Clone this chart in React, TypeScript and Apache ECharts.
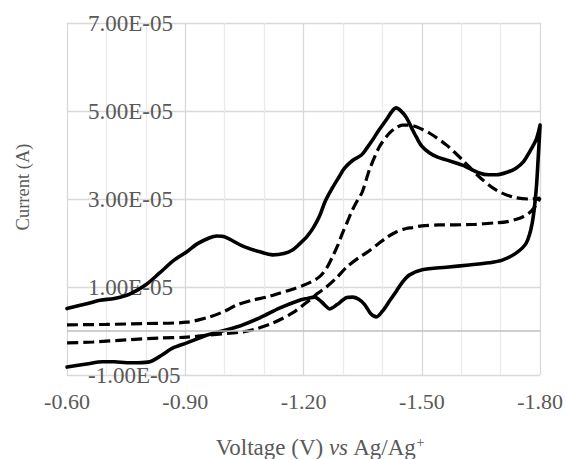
import React, { useEffect, useRef } from "react";
import * as echarts from "echarts";

// [voltage (V), current (×1e-5 A)]
const solidForward: [number, number][] = [
  [-0.6, 0.51], [-0.65, 0.62], [-0.684, 0.7], [-0.72, 0.74], [-0.759, 0.84], [-0.8, 1.05],
  [-0.835, 1.32], [-0.87, 1.6], [-0.904, 1.8], [-0.93, 1.98], [-0.962, 2.12], [-0.98, 2.16],
  [-1.0, 2.14], [-1.046, 1.93], [-1.089, 1.8], [-1.122, 1.73], [-1.15, 1.76], [-1.172, 1.84],
  [-1.19, 1.98], [-1.208, 2.14], [-1.225, 2.35], [-1.24, 2.6], [-1.255, 2.95], [-1.273, 3.25],
  [-1.29, 3.5], [-1.304, 3.7], [-1.325, 3.88], [-1.347, 4.0], [-1.36, 4.15], [-1.375, 4.34],
  [-1.39, 4.55], [-1.41, 4.8], [-1.425, 5.0], [-1.435, 5.07], [-1.445, 5.02], [-1.461, 4.85],
  [-1.475, 4.6], [-1.486, 4.41], [-1.5, 4.2], [-1.519, 4.05], [-1.54, 3.95], [-1.562, 3.89],
  [-1.603, 3.77], [-1.646, 3.59], [-1.67, 3.55], [-1.689, 3.55], [-1.72, 3.62], [-1.739, 3.7],
  [-1.758, 3.85], [-1.772, 4.05], [-1.79, 4.35], [-1.8, 4.68],
];
const solidReturn: [number, number][] = [
  [-1.795, 3.9], [-1.79, 3.2], [-1.78, 2.45], [-1.765, 2.0], [-1.739, 1.77], [-1.704, 1.61],
  [-1.671, 1.55], [-1.62, 1.5], [-1.562, 1.45], [-1.501, 1.39], [-1.468, 1.27], [-1.45, 1.1],
  [-1.435, 0.9], [-1.418, 0.68], [-1.4, 0.45], [-1.385, 0.32], [-1.37, 0.4], [-1.355, 0.6],
  [-1.34, 0.72], [-1.324, 0.77], [-1.31, 0.76], [-1.299, 0.7], [-1.285, 0.6], [-1.266, 0.5],
  [-1.255, 0.58], [-1.246, 0.66], [-1.228, 0.77], [-1.21, 0.74], [-1.19, 0.7], [-1.139, 0.52],
  [-1.089, 0.3], [-1.03, 0.09], [-0.96, -0.08], [-0.904, -0.27], [-0.87, -0.38], [-0.84, -0.55],
  [-0.81, -0.7], [-0.78, -0.72], [-0.752, -0.72], [-0.72, -0.7], [-0.691, -0.7], [-0.65, -0.75],
  [-0.6, -0.82],
];
const dashedForward: [number, number][] = [
  [-0.6, 0.14], [-0.7, 0.15], [-0.8, 0.17], [-0.904, 0.2], [-0.962, 0.32], [-1.0, 0.45],
  [-1.03, 0.59], [-1.07, 0.7], [-1.106, 0.77], [-1.139, 0.86], [-1.172, 0.95], [-1.197, 1.03],
  [-1.22, 1.12], [-1.24, 1.23], [-1.258, 1.42], [-1.273, 1.68], [-1.287, 1.95], [-1.299, 2.23],
  [-1.312, 2.5], [-1.324, 2.75], [-1.337, 2.97], [-1.349, 3.16], [-1.367, 3.66], [-1.392, 4.18],
  [-1.418, 4.5], [-1.435, 4.62], [-1.451, 4.68], [-1.47, 4.68], [-1.486, 4.64], [-1.519, 4.5],
  [-1.562, 4.23], [-1.603, 3.89], [-1.646, 3.5], [-1.689, 3.2], [-1.729, 3.05], [-1.772, 3.0],
  [-1.8, 3.02],
];
const dashedReturn: [number, number][] = [
  [-1.785, 2.8], [-1.772, 2.68], [-1.75, 2.57], [-1.714, 2.48], [-1.689, 2.46], [-1.628, 2.42],
  [-1.544, 2.41], [-1.5, 2.39], [-1.476, 2.35], [-1.461, 2.33], [-1.435, 2.25], [-1.41, 2.12],
  [-1.385, 1.95], [-1.36, 1.78], [-1.342, 1.68], [-1.309, 1.45], [-1.285, 1.22], [-1.258, 1.0],
  [-1.235, 0.85], [-1.215, 0.7], [-1.172, 0.41], [-1.122, 0.18], [-1.08, 0.05], [-1.046, -0.02],
  [-0.962, -0.09], [-0.904, -0.14], [-0.835, -0.16], [-0.752, -0.2], [-0.666, -0.25], [-0.6, -0.27],
];

const xMin = -1.8;
const xMax = -0.6;
const xInterval = 0.3;
const yMin = -1e-5;
const yMax = 7e-5;
const yInterval = 2e-5;
const currentUnit = 1e-5;

const yTitle = "Current (A)";
const xTitle = "Voltage (V) {i|vs} Ag/Ag{sup|+}";

const FONT = "'Liberation Serif', 'Times New Roman', serif";
const GRAY = "#595959";

const fmtSci = (v: number) => {
  if (Math.abs(v) < 1e-12) return "0.00E+00";
  const [m, e] = v.toExponential(2).split("e");
  const en = parseInt(e, 10);
  return `${m}E${en < 0 ? "-" : "+"}${String(Math.abs(en)).padStart(2, "0")}`;
};

const toData = (arr: [number, number][]) => arr.map(([v, i]) => [v, i * currentUnit]);

export default function App() {
  const ref = useRef<HTMLDivElement>(null);
  useEffect(() => {
    const chart = echarts.init(ref.current!, null, { renderer: "svg" });
    chart.setOption({
      animation: false,
      backgroundColor: "#fff",
      grid: { left: 67, right: 25, top: 23, bottom: 84, containLabel: false },
      xAxis: {
        type: "value",
        min: xMin,
        max: xMax,
        interval: xInterval,
        inverse: true,
        axisLine: { show: false, onZero: false },
        axisTick: { show: false },
        axisLabel: {
          formatter: (v: number) => v.toFixed(2),
          fontFamily: FONT,
          fontSize: 22,
          color: GRAY,
          margin: 15,
        },
        splitLine: { show: true, lineStyle: { color: "#d9d9d9", width: 1.3 } },
        minorTick: { show: false, splitNumber: 3 },
        minorSplitLine: { show: true, lineStyle: { color: "#ebebeb", width: 1.3 } },
      },
      yAxis: {
        type: "value",
        min: yMin,
        max: yMax,
        interval: yInterval,
        axisLine: { show: false },
        axisTick: { show: false },
        axisLabel: {
          inside: true,
          margin: 21,
          fontFamily: FONT,
          fontSize: 23,
          color: GRAY,
          formatter: fmtSci,
        },
        splitLine: { show: true, lineStyle: { color: "#d9d9d9", width: 1.3 } },
      },
      graphic: [
        {
          type: "text",
          x: 23,
          y: 187,
          rotation: Math.PI / 2,
          style: {
            text: yTitle,
            fontFamily: FONT,
            fontSize: 18.5,
            fill: GRAY,
            align: "center",
            verticalAlign: "middle",
          },
        },
        {
          type: "text",
          x: 320,
          y: 447,
          style: {
            text: xTitle,
            fontFamily: FONT,
            fontSize: 23,
            fill: GRAY,
            align: "center",
            verticalAlign: "middle",
            rich: {
              i: { fontFamily: FONT, fontSize: 23, fontStyle: "italic", fill: GRAY },
              sup: { fontFamily: FONT, fontSize: 14, fill: GRAY, verticalAlign: "top" },
            },
          },
        },
      ],
      series: [
        {
          type: "line",
          data: [],
          z: 1,
          silent: true,
          markLine: {
            silent: true,
            symbol: ["none", "none"],
            label: { show: false },
            lineStyle: { color: "#bfbfbf", width: 1.5, type: "solid" },
            data: [{ yAxis: 0 }],
          },
        },
        {
          type: "line",
          name: "cycle 1",
          data: toData([...solidForward, ...solidReturn]),
          showSymbol: false,
          symbol: "none",
          smooth: 0.3,
          z: 3,
          lineStyle: { color: "#000", width: 3.6, cap: "round", join: "round" },
        },
        {
          type: "line",
          name: "cycle 2",
          data: toData([...dashedForward, ...dashedReturn]),
          showSymbol: false,
          symbol: "none",
          smooth: 0.3,
          z: 3,
          lineStyle: { color: "#000", width: 3.2, type: [11, 5] },
        },
      ],
    });
    return () => chart.dispose();
  }, []);
  return (
    <div
      ref={ref}
      style={{ position: "fixed", left: 0, top: 0, width: 566, height: 459, background: "#fff" }}
    />
  );
}
